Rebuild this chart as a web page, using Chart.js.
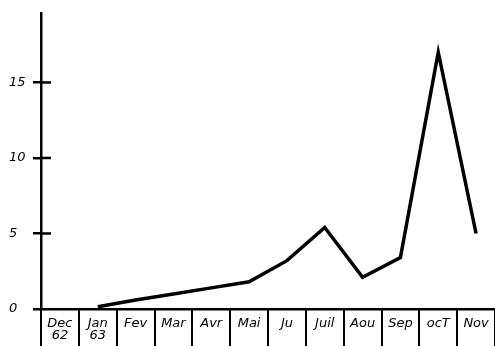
<!DOCTYPE html>
<html>
<head>
<meta charset="utf-8">
<script src="https://cdn.jsdelivr.net/npm/chart.js@4/dist/chart.umd.min.js"></script>
<style>
  body { margin: 0; background: #fff; }
  #wrap { width: 495px; height: 346px; }
</style>
</head>
<body>
<div id="wrap"><canvas id="chart" width="495" height="346"></canvas></div>
<script>
// mois (déc. 1962 - nov. 1963)
const months = [['Dec', '62'], ['Jan', '63'], 'Fev', 'Mar', 'Avr', 'Mai', 'Ju', 'Juil', 'Aou', 'Sep', 'ocT', 'Nov'];
const values = [null, 0.15, 0.6, 1.0, 1.4, 1.8, 3.2, 5.4, 2.1, 3.4, 17.0, 5.0];
const yTicks = [0, 5, 10, 15];
const yMax = 19.6;

// petites barres des cases sous l'axe + graduations qui traversent l'axe
const boxesPlugin = {
    id: 'boxes',
    afterDraw(chart) {
        const ctx = chart.ctx;
        const x = chart.scales.x;
        const y = chart.scales.y;
        const bottom = chart.height;
        ctx.save();
        ctx.strokeStyle = '#000';
        ctx.lineWidth = 2;
        for (let i = 0; i <= months.length; i++) {
            const px = Math.round(x.getPixelForValue(i - 0.5));
            ctx.beginPath();
            ctx.moveTo(px, x.top);
            ctx.lineTo(px, bottom);
            ctx.stroke();
        }
        ctx.lineWidth = 2.5;
        yTicks.filter(v => v > 0).forEach(v => {
            const py = y.getPixelForValue(v);
            ctx.beginPath();
            ctx.moveTo(x.left, py);
            ctx.lineTo(x.left + 10, py);
            ctx.stroke();
        });
        ctx.restore();
    }
};

const ctx = document.getElementById('chart').getContext('2d');
new Chart(ctx, {
    type: 'line',
    data: {
        labels: months,
        datasets: [{
            data: values,
            borderColor: '#000',
            borderWidth: 3.5,
            pointRadius: 0,
            tension: 0,
            fill: false
        }]
    },
    options: {
        responsive: false,
        animation: false,
        layout: { padding: { top: 13, left: 9, right: 0, bottom: 0 } },
        plugins: {
            legend: { display: false },
            tooltip: { enabled: false }
        },
        scales: {
            x: {
                offset: true,
                grid: { display: false },
                border: { color: '#000', width: 2.5 },
                ticks: {
                    color: '#000',
                    maxRotation: 0,
                    autoSkip: false,
                    padding: 1,
                    font: { family: 'DejaVu Sans', style: 'italic', size: 13, lineHeight: 0.9 }
                },
                afterFit(scale) { scale.height = 37; }
            },
            y: {
                min: 0,
                max: yMax,
                grid: { drawOnChartArea: false, color: '#000', lineWidth: 2.5, tickLength: 8 },
                border: { color: '#000', width: 2.5 },
                afterBuildTicks(scale) {
                    scale.ticks = yTicks.map(v => ({ value: v }));
                },
                ticks: {
                    color: '#000',
                    crossAlign: 'far',
                    font: { family: 'DejaVu Sans', style: 'italic', size: 13 }
                },
                afterFit(scale) { scale.width = 32; }
            }
        }
    },
    plugins: [boxesPlugin]
});
</script>
</body>
</html>
